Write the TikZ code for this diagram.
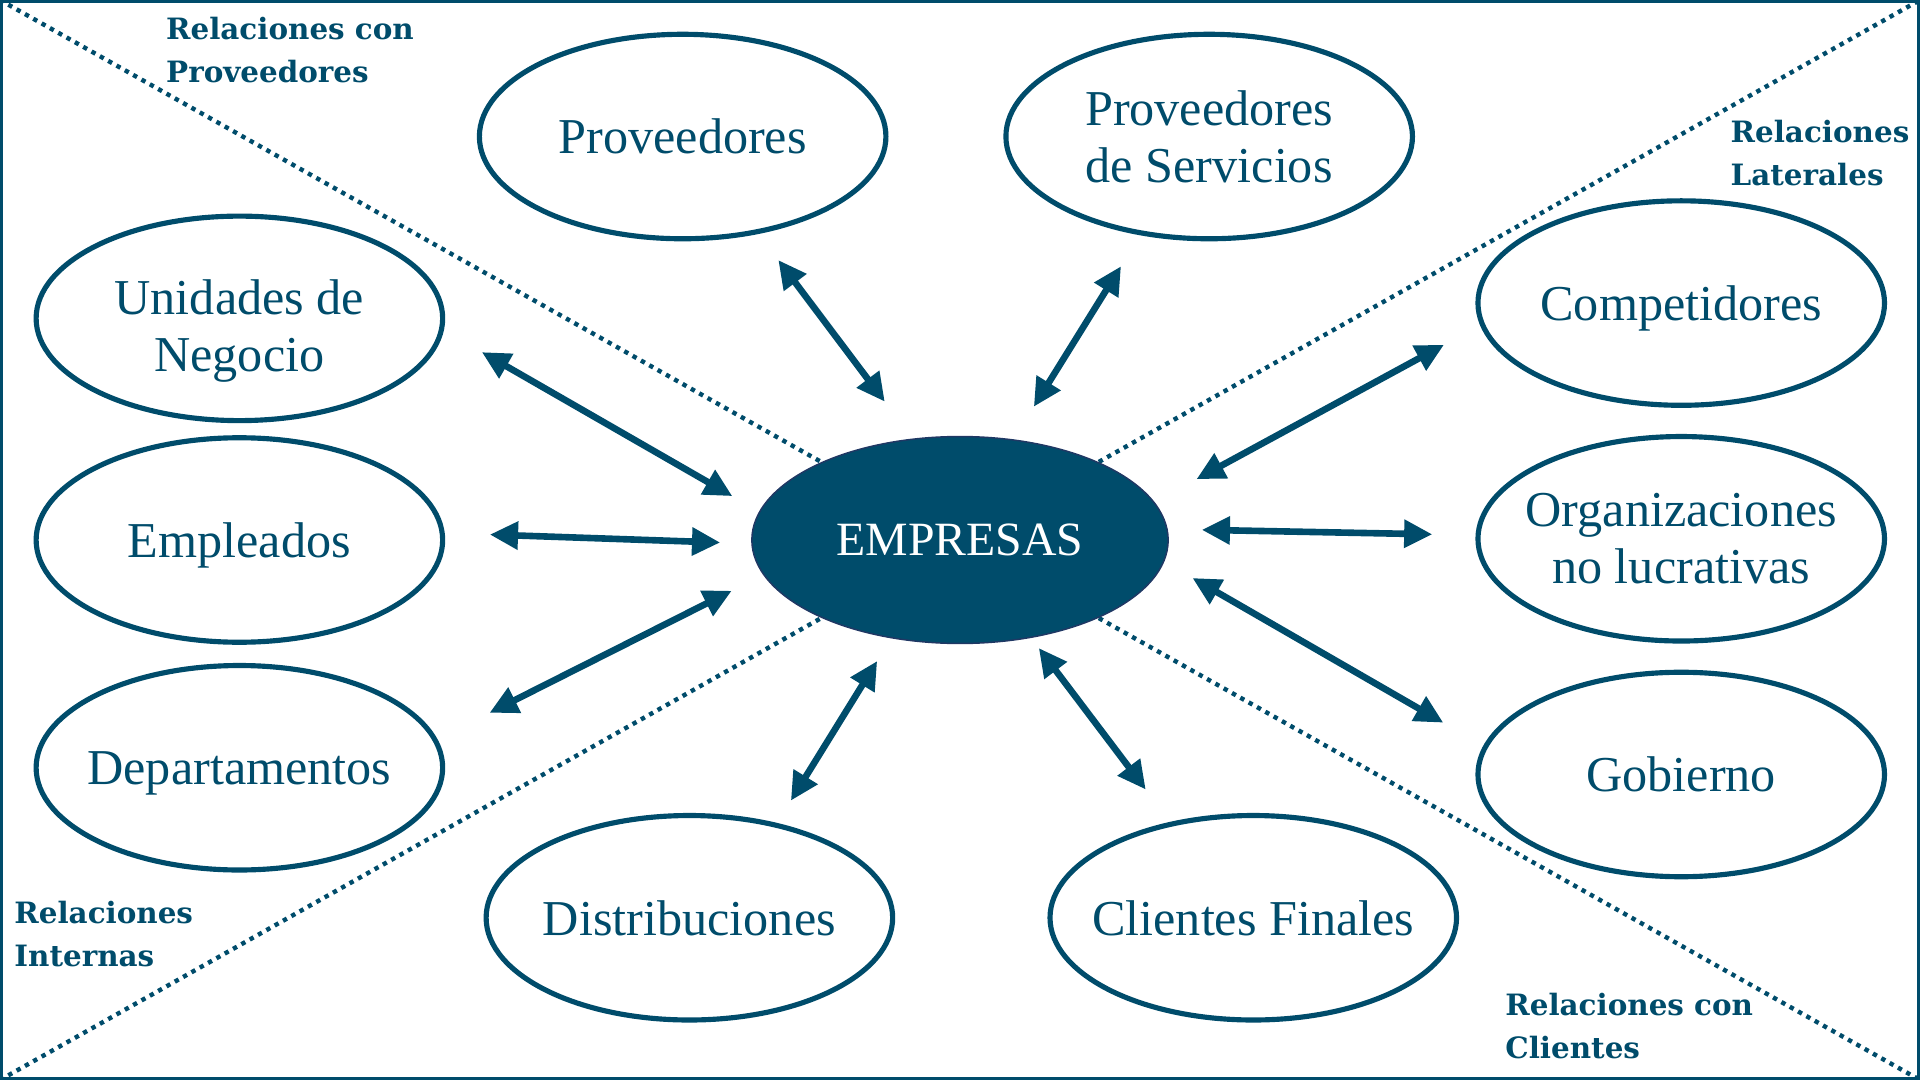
\documentclass[tikz,border=0pt]{standalone}
\usepackage{fontspec}
\setmainfont{Liberation Serif}
\newfontfamily\etiqfont{DejaVu Serif}
\usetikzlibrary{shapes.geometric,arrows.meta}

\begin{document}
\begin{tikzpicture}[x=0.5pt,y=-0.5pt,
  elipse/.style={ellipse,draw=azul,line width=2.1pt,fill=white,minimum width=166pt,minimum height=83.5pt,
    inner sep=-10pt,outer sep=0pt,text=azul,text depth=0pt,align=center,font=\fontsize{20.5}{23.3}\selectfont},
  flecha/.style={{Triangle[length=11.5pt,width=11pt]}-{Triangle[length=11.5pt,width=11pt]},line width=2.7pt,draw=azul,fill=azul},
  relacion/.style={anchor=north west,inner sep=0pt,align=left,text=azul,font=\etiqfont\bfseries\fontsize{12}{17.5}\selectfont},
  punteada/.style={draw=azul,line width=1.8pt,dash pattern=on 1.8pt off 2.1pt}]
\definecolor{azul}{HTML}{004C6B}
\definecolor{azulosc}{HTML}{203864}
\useasboundingbox (0,0) rectangle (1568,882);
\draw[azul,line width=1.2pt] (1.2,1.2) rectangle (1566.8,880.8);
\draw[punteada] (0,0) -- (1568,882);
\draw[punteada] (0,882) -- (1568,0);
\node[ellipse,fill=azul,draw=azulosc,line width=0.6pt,minimum width=170pt,minimum height=84.5pt,inner sep=0pt,outer sep=0pt,
  text=white,font=\fontsize{19.5}{22}\selectfont] (emp) at (784,441) {EMPRESAS};
  \foreach \nm/\px/\py/\txt in {prov/557.5/111.5/Proveedores,serv/987.5/111.5/{Proveedores\\de Servicios},
    uni/195.5/260/{\rule{0pt}{20pt}Unidades de\\Negocio},empl/195.5/441/Empleados,dep/195.5/627/Departamentos,
    comp/1373/247.5/Competidores,org/1373/440/{Organizaciones\\no lucrativas},gob/1373/632.5/Gobierno,
    dist/563/749.5/Distribuciones,cli/1023.5/749.5/{Clientes Finales}}
  {  \node[elipse] (\nm) at (\px,\py) {\txt};}
  \foreach \nm/\aa/\ab/\sa/\sb in {prov/-52/115.2/14.5/19.2,serv/-125.7/62.1/16/16,uni/-3.8/172.7/19/12.9,
    empl/2.2/181/19.5/13,dep/8/190.2/24.9/14.7,comp/186.6/11.2/17.8/19.8,org/179.1/3.7/18.7/14.2,
    gob/172.4/-6.3/19.9/13.6,dist/47.2/-125.4/11.8/11.2,cli/131.5/-54.9/17.7/5.5}
  {  \draw[flecha,shorten <=\sa pt,shorten >=\sb pt] (\nm.\aa) -- (emp.\ab);}
\node[relacion] (relprov) at (135.3,13.9) {Relaciones con\\Proveedores};
\node[relacion] (rellat) at (1413,97.5) {Relaciones\\Laterales};
\node[relacion] (relint) at (11.4,735.8) {Relaciones\\Internas};
\node[relacion] (relcli) at (1229,810.4) {Relaciones con\\Clientes};
\end{tikzpicture}
\end{document}
